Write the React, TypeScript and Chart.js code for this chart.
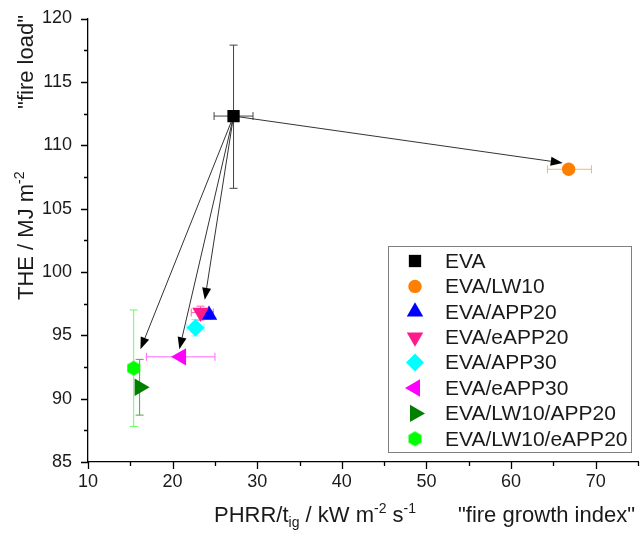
import React, { useEffect, useRef } from 'react';
import { Chart, registerables } from 'chart.js';
import { drawPoint } from 'chart.js/helpers';

Chart.register(...registerables);

// ---- data ----
const seriesNames = ['EVA', 'EVA/LW10', 'EVA/APP20', 'EVA/eAPP20', 'EVA/APP30', 'EVA/eAPP30', 'EVA/LW10/APP20', 'EVA/LW10/eAPP20'];
const fireGrowthIndex = [27.2, 66.8, 24.3, 23.3, 22.7, 21.0, 16.1, 15.4];
const totalHeatEvolved = [112.3, 108.1, 96.6, 96.8, 95.6, 93.3, 90.9, 92.4];
const fgiLow = [24.9, 64.3, 23.8, 22.2, 21.7, 16.9, 16.1, 15.4];
const fgiHigh = [29.5, 69.5, 24.8, 24.8, 23.7, 25.0, 16.1, 15.4];
const theLow = [106.6, 108.1, 96.3, 96.2, 94.95, 93.3, 88.7, 87.8];
const theHigh = [117.9, 108.1, 96.9, 97.3, 96.25, 93.3, 93.1, 97.0];
const seriesColors = ['#000000', '#ff8000', '#0000ff', '#ff1a8c', '#00ffff', '#ff00ff', '#007f00', '#00ff00'];
const errorColors = ['#444444', '#ffb266', '#6666ff', '#ff66b3', '#66ffff', '#ff66ff', '#4da64d', '#66ff66'];
const markerStyles = ['rect', 'circle', 'triangle', 'triangle', 'rectRot', 'triangle', 'triangle', 'hexagon'];
const markerRotations = [0, 0, 0, 180, 0, 270, 90, 0];
const markerRadii = [8.7, 6.7, 9.5, 9.5, 9, 10, 10, 7.5];

// arrows from EVA to the modified formulations (end points in data units)
const arrowEndX = [66.1, 23.8, 20.8, 16.2];
const arrowEndY = [108.6, 97.8, 93.9, 93.9];

// axes
const xMin = 10, xMax = 75, xStep = 5, xLabelStep = 10;
const yMin = 85, yMax = 120, yStep = 2.5, yLabelStep = 5;

const FONT = '"Liberation Sans", Arial, sans-serif';
const TEXT = '#1a1a1a';

function makeHexagon(color: string, r: number): HTMLCanvasElement {
  const c = document.createElement('canvas');
  const s = Math.ceil(r * 2 + 2);
  c.width = s; c.height = s;
  const g = c.getContext('2d')!;
  g.fillStyle = color;
  g.beginPath();
  for (let k = 0; k < 6; k++) {
    const a = -Math.PI / 2 + (k * Math.PI) / 3;
    const px = s / 2 + r * Math.cos(a);
    const py = s / 2 + r * Math.sin(a);
    if (k === 0) g.moveTo(px, py); else g.lineTo(px, py);
  }
  g.closePath();
  g.fill();
  return c;
}

const errorBarPlugin = {
  id: 'errorBars',
  beforeDatasetsDraw(chart: any) {
    const { ctx, scales: { x, y } } = chart;
    ctx.save();
    ctx.lineWidth = 1;
    const cap = 4;
    for (let i = 0; i < seriesNames.length; i++) {
      const px = x.getPixelForValue(fireGrowthIndex[i]);
      const py = y.getPixelForValue(totalHeatEvolved[i]);
      ctx.strokeStyle = errorColors[i];
      const xl = x.getPixelForValue(fgiLow[i]);
      const xh = x.getPixelForValue(fgiHigh[i]);
      if (xh - xl > 1) {
        ctx.beginPath();
        ctx.moveTo(xl, py); ctx.lineTo(xh, py);
        ctx.moveTo(xl, py - cap); ctx.lineTo(xl, py + cap);
        ctx.moveTo(xh, py - cap); ctx.lineTo(xh, py + cap);
        ctx.stroke();
      }
      const yl = y.getPixelForValue(theLow[i]);
      const yh = y.getPixelForValue(theHigh[i]);
      if (yl - yh > 1) {
        ctx.beginPath();
        ctx.moveTo(px, yl); ctx.lineTo(px, yh);
        ctx.moveTo(px - cap, yl); ctx.lineTo(px + cap, yl);
        ctx.moveTo(px - cap, yh); ctx.lineTo(px + cap, yh);
        ctx.stroke();
      }
    }
    // arrows
    const sx = x.getPixelForValue(fireGrowthIndex[0]);
    const sy = y.getPixelForValue(totalHeatEvolved[0]);
    for (let k = 0; k < arrowEndX.length; k++) {
      const ex = x.getPixelForValue(arrowEndX[k]);
      const ey = y.getPixelForValue(arrowEndY[k]);
      const ang = Math.atan2(ey - sy, ex - sx);
      const len = 12, hw = 4.5;
      const bx = ex - len * Math.cos(ang);
      const by = ey - len * Math.sin(ang);
      ctx.strokeStyle = '#333333';
      ctx.lineWidth = 1;
      ctx.beginPath();
      ctx.moveTo(sx, sy);
      ctx.lineTo(bx, by);
      ctx.stroke();
      ctx.fillStyle = '#000000';
      ctx.beginPath();
      ctx.moveTo(ex, ey);
      ctx.lineTo(bx + hw * Math.sin(ang), by - hw * Math.cos(ang));
      ctx.lineTo(bx - hw * Math.sin(ang), by + hw * Math.cos(ang));
      ctx.closePath();
      ctx.fill();
    }
    ctx.restore();
  },
};

function drawRich(ctx: CanvasRenderingContext2D, parts: [string, string][], x0: number, base: number) {
  let cx = x0;
  for (const [kind, txt] of parts) {
    if (kind === 'n') {
      ctx.font = `22px ${FONT}`;
      ctx.fillText(txt, cx, base);
    } else if (kind === 'sup') {
      ctx.font = `14px ${FONT}`;
      ctx.fillText(txt, cx, base - 9);
    } else {
      ctx.font = `14px ${FONT}`;
      ctx.fillText(txt, cx, base + 5);
    }
    cx += ctx.measureText(txt).width;
  }
  return cx;
}

const decorPlugin = {
  id: 'decor',
  afterDraw(chart: any) {
    const { ctx, scales: { x, y }, chartArea } = chart;
    ctx.save();
    // tick marks
    ctx.strokeStyle = '#000';
    ctx.lineWidth = 1.3;
    ctx.beginPath();
    for (let v = xMin; v <= xMax + 1e-9; v += xStep) {
      const px = Math.round(x.getPixelForValue(v)) + 0.5;
      const major = Math.abs(v / xLabelStep - Math.round(v / xLabelStep)) < 1e-6;
      ctx.moveTo(px, chartArea.bottom);
      ctx.lineTo(px, chartArea.bottom + (major ? 7 : 4));
    }
    for (let v = yMin; v <= yMax + 1e-9; v += yStep) {
      const py = Math.round(y.getPixelForValue(v)) + 0.5;
      const major = Math.abs(v / yLabelStep - Math.round(v / yLabelStep)) < 1e-6;
      ctx.moveTo(chartArea.left, py);
      ctx.lineTo(chartArea.left - (major ? 7 : 4), py);
    }
    ctx.stroke();

    // axis titles
    ctx.fillStyle = TEXT;
    ctx.textBaseline = 'alphabetic';
    ctx.textAlign = 'left';
    drawRich(ctx, [['n', 'PHRR/t'], ['sub', 'ig'], ['n', ' / kW m'], ['sup', '-2'], ['n', ' s'], ['sup', '-1']], 214, 521.5);
    ctx.font = `22px ${FONT}`;
    ctx.textAlign = 'right';
    ctx.fillText('"fire growth index"', 635, 521.5);

    ctx.save();
    ctx.translate(33, 300);
    ctx.rotate(-Math.PI / 2);
    ctx.textAlign = 'left';
    drawRich(ctx, [['n', 'THE / MJ m'], ['sup', '-2']], 0, 0);
    ctx.font = `22px ${FONT}`;
    ctx.textAlign = 'right';
    ctx.fillText('"fire load"', 285, 0);
    ctx.restore();

    // legend
    const lx = 388, ly = 246, lw = 243, lh = 206;
    ctx.fillStyle = '#ffffff';
    ctx.fillRect(lx, ly, lw, lh);
    ctx.strokeStyle = '#808080';
    ctx.lineWidth = 1;
    ctx.strokeRect(lx + 0.5, ly + 0.5, lw, lh);
    ctx.font = `21px ${FONT}`;
    ctx.textAlign = 'left';
    ctx.textBaseline = 'middle';
    chart.data.datasets.forEach((ds: any, i: number) => {
      const cy = 261 + i * 25.4;
      ctx.fillStyle = ds.backgroundColor;
      ctx.strokeStyle = ds.backgroundColor;
      drawPoint(ctx, { pointStyle: ds.pointStyle, rotation: ds.pointRotation, radius: ds.pointRadius, borderWidth: 0 } as any, 415, cy);
      ctx.fillStyle = TEXT;
      ctx.fillText(ds.label, 445, cy + 1);
    });
    ctx.restore();
  },
};

export default function App() {
  const ref = useRef<HTMLCanvasElement | null>(null);
  useEffect(() => {
    if (!ref.current) return;
    const datasets = seriesNames.map((name, i) => ({
      label: name,
      data: [{ x: fireGrowthIndex[i], y: totalHeatEvolved[i] }],
      backgroundColor: seriesColors[i],
      borderColor: seriesColors[i],
      borderWidth: 0,
      pointStyle: markerStyles[i] === 'hexagon' ? makeHexagon(seriesColors[i], markerRadii[i]) : markerStyles[i],
      pointRotation: markerRotations[i],
      pointRadius: markerRadii[i],
      pointBorderWidth: 0,
      order: seriesNames.length - i,
    }));
    const chart = new Chart(ref.current, {
      type: 'scatter',
      data: { datasets: datasets as any },
      plugins: [errorBarPlugin, decorPlugin],
      options: {
        animation: false,
        responsive: false,
        maintainAspectRatio: false,
        layout: { autoPadding: false, padding: { top: 18.5, right: 3, left: 0, bottom: 0 } },
        plugins: { legend: { display: false }, tooltip: { enabled: false } },
        scales: {
          x: {
            type: 'linear',
            min: xMin,
            max: xMax,
            grid: { display: false, drawTicks: false },
            border: { display: true, color: '#000', width: 1.3 },
            ticks: {
              stepSize: xStep,
              autoSkip: false,
              maxRotation: 0,
              padding: 9,
              color: TEXT,
              font: { family: FONT, size: 18 },
              callback: (v: any) => (Math.abs(v % xLabelStep) < 1e-6 ? String(v) : ''),
            },
            afterFit: (s: any) => { s.height = 72; s.paddingLeft = 0; s.paddingRight = 0; },
          },
          y: {
            type: 'linear',
            min: yMin,
            max: yMax,
            grid: { display: false, drawTicks: false },
            border: { display: true, color: '#000', width: 1.3 },
            ticks: {
              stepSize: yStep,
              autoSkip: false,
              padding: 16,
              color: TEXT,
              font: { family: FONT, size: 18 },
              callback: (v: any) => (Math.abs(v % yLabelStep) < 1e-6 ? String(v) : ''),
            },
            afterFit: (s: any) => { s.width = 88; s.paddingTop = 0; s.paddingBottom = 0; },
          },
        },
      } as any,
    });
    return () => chart.destroy();
  }, []);
  return (
    <div style={{ position: 'absolute', left: 0, top: 0, width: 641, height: 534, background: '#fff' }}>
      <canvas ref={ref} width={641} height={534} style={{ display: 'block' }} />
    </div>
  );
}
